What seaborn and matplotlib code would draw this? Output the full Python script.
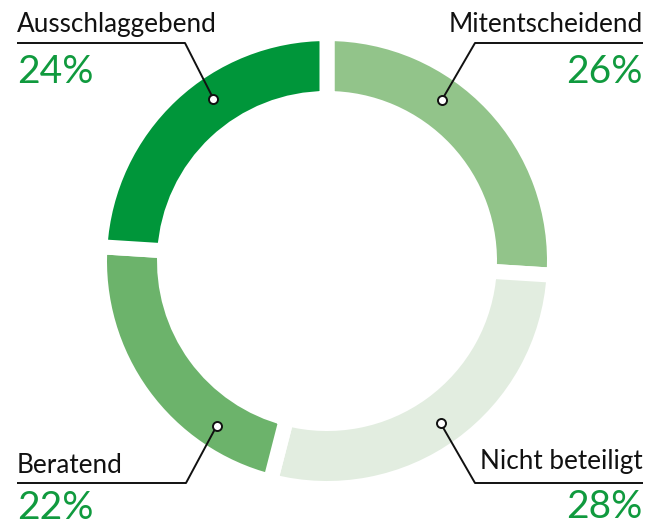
import numpy as np
import matplotlib
matplotlib.use("Agg")
import matplotlib.pyplot as plt
import seaborn as sns

# ---- data ----
categories = ["Mitentscheidend", "Nicht beteiligt", "Beratend", "Ausschlaggebend"]
shares = [26, 28, 22, 24]
colors = ["#92c48a", "#e2ede0", "#6cb36b", "#00963a"]

sns.set_theme(style="white")
plt.rcParams["font.family"] = ["Lato", "DejaVu Sans"]

W, H = 647, 526
fig = plt.figure(figsize=(W / 100, H / 100), dpi=100)
ax = fig.add_axes([0, 0, 1, 1])

def py(y):
    return H - y

cx, cy = 327, py(261)
gap_px = 15
R_out = 220 + gap_px / 2
R_in = 170 - gap_px / 2

ax.pie(shares, colors=colors, startangle=90, counterclock=False,
       radius=R_out, center=(cx, cy), frame=True,
       wedgeprops=dict(width=R_out - R_in, edgecolor="white",
                       linewidth=gap_px * 72 / 100, joinstyle="miter"))
ax.set_xlim(0, W)
ax.set_ylim(0, H)
ax.set_aspect("equal")
ax.axis("off")

text_color = "#111111"
pct_color = "#109a3e"
lab_size = 18.8
pct_size = 28

layout = {
    "Ausschlaggebend": dict(tx=17, ha="left", base=32, ly=43, lx0=17, lx1=185, dot_ang=325, pbase=83),
    "Mitentscheidend": dict(tx=643, ha="right", base=32, ly=43, lx0=475, lx1=643, dot_ang=35.5, pbase=83),
    "Beratend": dict(tx=17, ha="left", base=473, ly=483, lx0=17, lx1=186, dot_ang=213.8, pbase=519),
    "Nicht beteiligt": dict(tx=643, ha="right", base=469, ly=483, lx0=475, lx1=643, dot_ang=145, pbase=518),
}

r_dot = 198
for name, val in zip(categories, shares):
    L = layout[name]
    ang = np.deg2rad(L["dot_ang"])
    dx = cx + r_dot * np.sin(ang)
    dy = cy + r_dot * np.cos(ang)
    ex = L["lx1"] if L["ha"] == "left" else L["lx0"]
    ax.plot([L["lx0"], L["lx1"]], [py(L["ly"]), py(L["ly"])], color=text_color, lw=1.4,
            solid_capstyle="butt")
    ax.plot([ex, dx], [py(L["ly"]), dy], color=text_color, lw=1.4)
    ax.plot([dx], [dy], marker="o", ms=6.5, mfc="white", mec=text_color, mew=1.4)
    ax.text(L["tx"], py(L["base"]), name, ha=L["ha"], va="baseline",
            fontsize=lab_size, color=text_color)
    ax.text(L["tx"], py(L["pbase"]), f"{val}%", ha=L["ha"], va="baseline",
            fontsize=pct_size, color=pct_color)

fig.savefig("out.png", dpi=100)
